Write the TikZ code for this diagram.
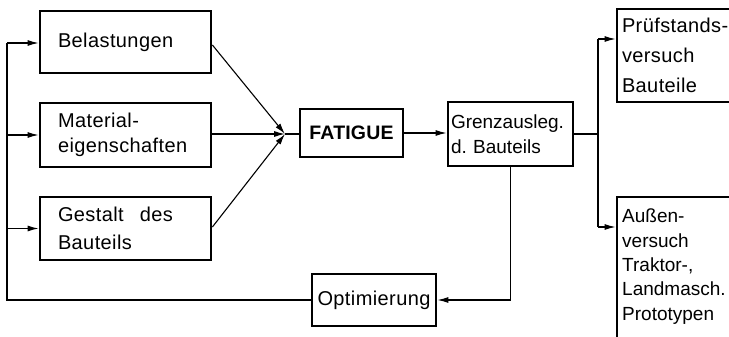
\documentclass[tikz,border=0pt]{standalone}
\usepackage{fontspec}
\setmainfont{Liberation Sans}[LetterSpace=2]
\newfontfamily\fatfont{Liberation Sans}[LetterSpace=1]
\newfontfamily\tightfont{Liberation Sans}
\usetikzlibrary{arrows.meta}
\tikzset{
  box/.style={draw, line width=2.8pt, inner ysep=0pt, align=left, font=\fontsize{20}{25}\selectfont},
  conn/.style={line width=1.1pt},
  arr/.style={conn, -{Latex[length=11pt,width=6pt]}},
}
\begin{document}
\begin{tikzpicture}[x=1pt,y=-1pt]
\useasboundingbox (0,0) rectangle (729,337);
\clip (0,0) rectangle (729,337);
% left boxes
\node[box, minimum width=171pt, minimum height=62pt, text width=135pt, inner xsep=18pt] (bel) at (125.5,42) {Belastungen};
\node[box, minimum width=171pt, minimum height=64pt, text width=135pt, inner xsep=18pt] (mat) at (125.5,135) {Material-\\eigenschaften};
\node[box, minimum width=171pt, minimum height=63pt, text width=135pt, inner xsep=18pt] (ges) at (125.5,228.5) {Gestalt\hspace{16pt}des\\[3pt]Bauteils};
% center
\node[box, minimum width=103pt, minimum height=48pt, inner xsep=0pt, font=\fatfont\bfseries\fontsize{19.5}{22}\selectfont] (fat) at (351.5,133) {FATIGUE};
\node[box, minimum width=125pt, minimum height=64pt, text width=119pt, inner xsep=3pt, font=\tightfont\fontsize{19}{25}\selectfont] (gre) at (510.5,134) {Grenzausleg.\\d.\ Bauteils};
\node[box, minimum width=124pt, minimum height=52pt, inner xsep=0pt] (opt) at (374,300) {Optimierung};
% right boxes
\node[box, minimum width=150pt, minimum height=93pt, text width=140pt, inner xsep=5pt] (pru) at (692,55.5) {Prüfstands-\\[5pt]versuch\\[5pt]Bauteile};
\node[box, minimum width=150pt, minimum height=180pt] (aus) at (692,287) {};
\node[anchor=west, inner sep=0pt, align=left, font=\tightfont\fontsize{19}{24.3}\selectfont] (austext) at (622,266.5) {Außen-\\versuch\\Traktor-,\\Landmasch.\\Prototypen};
% coordinates
\coordinate (J) at (285,134);
\coordinate (Ltop) at (7,43);
\coordinate (Lbot) at (7,300);
\coordinate (B) at (598,134);
\coordinate (Btop) at (598,39);
\coordinate (Bbot) at (598,227);
% connectors
\draw[conn] (opt.west) -- (Lbot) -- (Ltop);
\draw[arr] (Ltop) -- (Ltop -| bel.west);
\draw[arr] (Lbot |- mat.west) -- (mat.west);
\draw[arr] (Lbot |- ges.west) -- (ges.west);
\draw[arr] ([yshift=-3pt]bel.east) -- (J);
\draw[arr] ([yshift=1pt]mat.east) -- (J);
\draw[arr] ([yshift=1.5pt]ges.east) -- (J);
\draw[conn] (J) -- (J -| fat.west);
\draw[arr] (fat.east |- 0,133) -- (gre.west |- 0,133);
\draw[conn] (gre.east) -- (B);
\draw[conn] (Btop) -- (Bbot);
\draw[arr] (Btop) -- (Btop -| pru.west);
\draw[arr] (Bbot) -- (Bbot -| aus.west);
\draw[arr] (gre.south) |- (opt.east);
\end{tikzpicture}
\end{document}
